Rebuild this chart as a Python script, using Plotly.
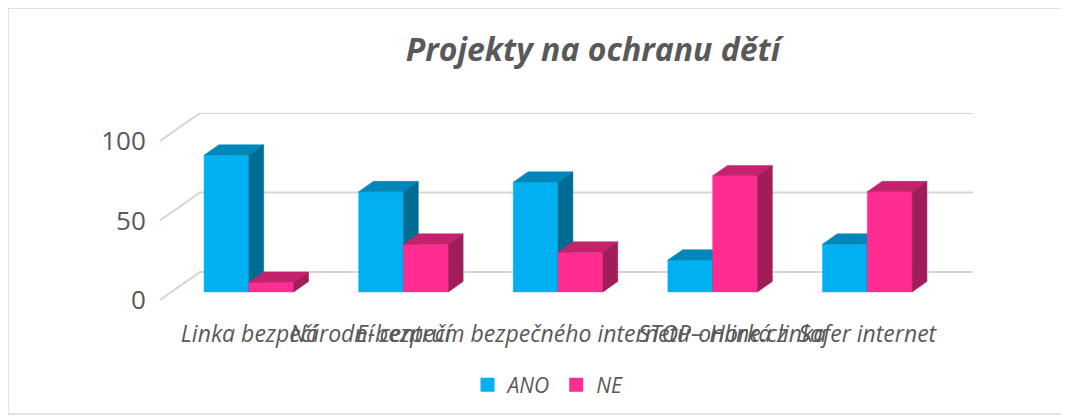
import plotly.graph_objects as go

categories = [
    "Linka bezpečí",
    "E-bezpečí",
    "Národní centrum bezpečného internetu - Horká linka",
    "STOP-online.cz",
    "Safer internet",
]
ano_values = [86, 63, 69, 20, 30]
ne_values = [6, 30, 25, 73, 63]
y_ticks = [0, 50, 100]

series = [
    ("ANO", ano_values, "#00B0F0", "#0086B8", "#006C94"),
    ("NE", ne_values, "#FF2D92", "#C4226C", "#A01D59"),
]

# 3D projection parameters (in axis units)
DX = 0.2587      # full depth, x units
DY = 17.6        # full depth, y units
F1, F2 = 0.29, 0.66   # bar front / back depth fractions
W = 0.29         # bar width
n = len(categories)

# page body has an 8px margin: compensate
OFF = 8
L, R, T, B = 160 - OFF, 1069 - 973 + OFF, 113 - OFF, 420 - 300 + OFF
PW, PH = 1069 - L - R, 420 - T - B

fig = go.Figure()

GRID = "#D5D5D5"
gx, gy = [], []
for v in y_ticks:
    gx += [-0.5, -0.5 + DX, n - 0.5 + DX, None]
    gy += [v, v + DY, v + DY, None]
fig.add_trace(go.Scatter(x=gx, y=gy, mode="lines", line=dict(color=GRID, width=2),
                         hoverinfo="skip", showlegend=False))

dX = (F2 - F1) * DX
dY = (F2 - F1) * DY
for s, (name, vals, cf, ct, cs) in enumerate(series):
    fx, fy, tx, ty, sx, sy = [], [], [], [], [], []
    for i, v in enumerate(vals):
        x0 = i + F1 * DX + (s - 1) * W
        x1 = x0 + W
        yb = F1 * DY
        yt = yb + v
        fx += [x0, x1, x1, x0, x0, None]
        fy += [yb, yb, yt, yt, yb, None]
        tx += [x0, x1, x1 + dX, x0 + dX, x0, None]
        ty += [yt, yt, yt + dY, yt + dY, yt, None]
        sx += [x1, x1 + dX, x1 + dX, x1, x1, None]
        sy += [yb, yb + dY, yt + dY, yt, yb, None]
    for xs, ys, col in ((fx, fy, cf), (tx, ty, ct), (sx, sy, cs)):
        fig.add_trace(go.Scatter(x=xs, y=ys, mode="lines", fill="toself", fillcolor=col,
                                 line=dict(color=col, width=0.5), hoverinfo="skip",
                                 showlegend=False))
    fig.add_trace(go.Scatter(x=[None], y=[None], mode="markers", name=name,
                             marker=dict(symbol="square", size=14, color=cf)))

TXT = "#595959"
fig.update_layout(
    width=1069, height=420,
    margin=dict(l=L, r=R, t=T, b=B),
    paper_bgcolor="white", plot_bgcolor="white",
    font=dict(family="Open Sans", color=TXT),
    title=dict(text="Projekty na ochranu dětí", x=(593 - OFF) / 1069, y=1 - (50 - OFF) / 420,
               xanchor="center", yanchor="middle", xref="container", yref="container",
               font=dict(size=32, color=TXT, weight="bold", style="italic", family="Open Sans")),
    xaxis=dict(range=[-0.5, n - 0.5 + DX], tickmode="array",
               tickvals=[i + F1 * DX for i in range(n)], ticktext=categories,
               tickangle=0, showgrid=False, zeroline=False, showline=False,
               ticks="outside", ticklen=13, tickcolor="rgba(0,0,0,0)",
               tickfont=dict(size=23, style="italic", color=TXT, family="Open Sans")),
    yaxis=dict(range=[0, 100 + DY], tickmode="array", tickvals=y_ticks,
               showgrid=False, zeroline=False, showline=False,
               ticks="outside", ticklen=8, tickcolor="rgba(0,0,0,0)",
               tickfont=dict(size=26, color=TXT, family="Open Sans")),
    legend=dict(orientation="h", x=(548 - OFF - L) / PW, y=(300 - 385) / 187,
                xanchor="center", yanchor="middle",
                font=dict(size=21, style="italic", color=TXT, family="Open Sans"),
                itemwidth=30),
    shapes=[dict(type="rect", xref="paper", yref="paper",
                 x0=(8 - OFF - L) / PW, x1=(1062 - OFF - L) / PW,
                 y0=(300 - 414) / 187, y1=(300 - 8) / 187,
                 line=dict(color="#D9D9D9", width=1.5))],
)

fig.write_html("out.html")
